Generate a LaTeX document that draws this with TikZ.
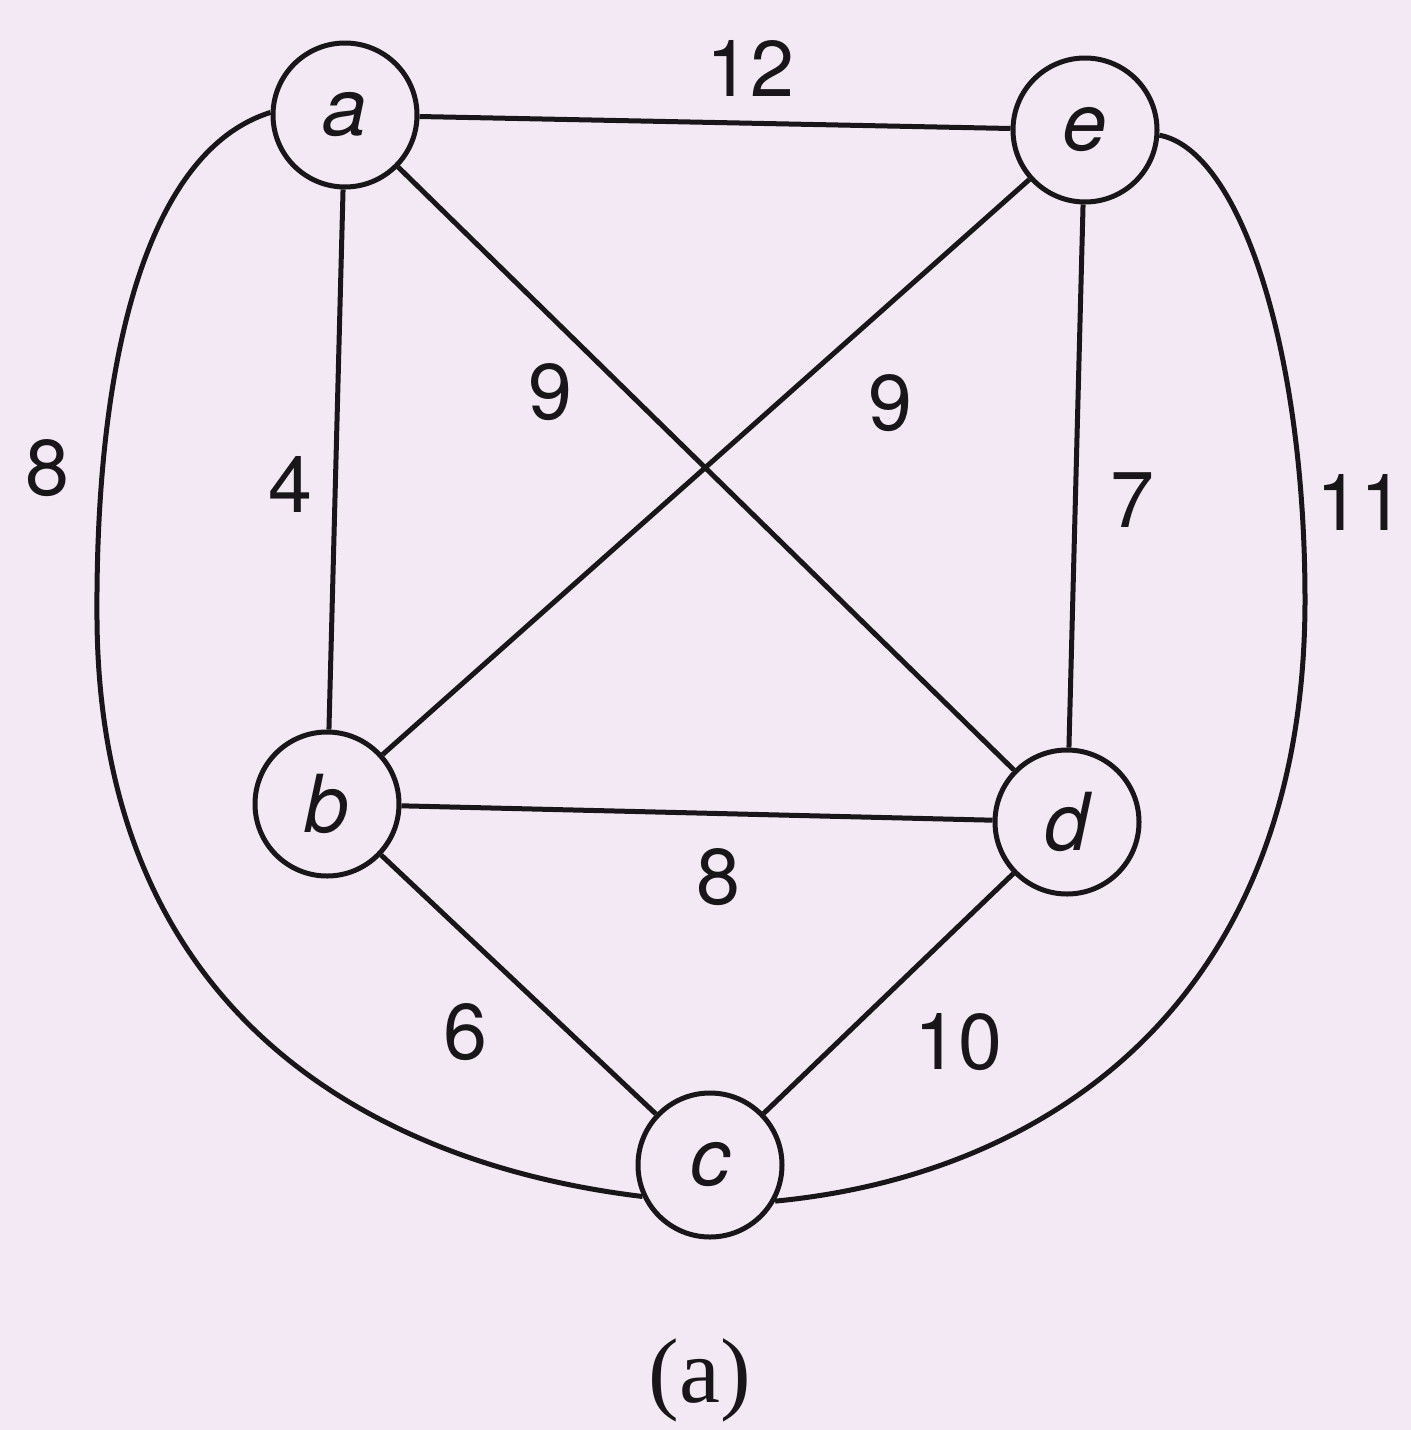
\documentclass[tikz,border=0pt]{standalone}
\usepackage{fontspec}
\setmainfont{Liberation Serif}
\setsansfont{TeX Gyre Heros}
\definecolor{bg}{RGB}{243,233,245}
\definecolor{ink}{RGB}{25,22,25}
\begin{document}
\begin{tikzpicture}[x=1pt,y=-1pt,
  vertex/.style={circle, draw=ink, line width=5pt, minimum size=144pt, inner sep=0pt,
    text=ink, font=\sffamily\itshape\fontsize{80}{80}\selectfont},
  wlabel/.style={inner sep=0pt, text=ink, font=\sffamily\fontsize{79}{79}\selectfont},
  edge/.style={draw=ink, line width=5pt}]
\fill[bg] (0,0) rectangle (1411,1430);
\useasboundingbox (0,0) rectangle (1411,1430);

\node[vertex] (a) at (345,115) {a};
\node[vertex] (e) at (1085,130) {e};
\node[vertex] (b) at (327,804) {b};
\node[vertex] (d) at (1067,822) {d};
\node[vertex] (c) at (710,1165) {c};

\draw[edge] (a) -- (e);
\draw[edge] (a) -- (b);
\draw[edge] (a) -- (d);
\draw[edge] (e) -- (b);
\draw[edge] (e) -- (d);
\draw[edge] (b) -- (d);
\draw[edge] (b) -- (c);
\draw[edge] (d) -- (c);

\draw[edge] (a.178) .. controls (150,150) and (95,350) .. (97,620)
  .. controls (100,1020) and (380,1165) .. (c.205);
\draw[edge] (e.356) .. controls (1240,150) and (1305,350) .. (1305,600)
  .. controls (1305,1000) and (1050,1175) .. (c.331);

\node[wlabel] (l12) at (750,68) {12};
\node[wlabel] (l4) at (290,484) {4};
\node[wlabel] (l9a) at (550,392) {9};
\node[wlabel] (l9b) at (890,403) {9};
\node[wlabel] (l7) at (1132,500) {7};
\node[wlabel] (l8b) at (718,877) {8};
\node[wlabel] (l6) at (465,1032) {6};
\node[wlabel] (l10) at (958,1042) {10};
\node[wlabel] (l8a) at (47,468) {8};
\node[wlabel] (l11) at (1360,502) {11};

\node[inner sep=0pt, text=ink, font=\rmfamily\fontsize{92}{92}\selectfont] (cap) at (700,1380) {(a)};
\end{tikzpicture}
\end{document}
